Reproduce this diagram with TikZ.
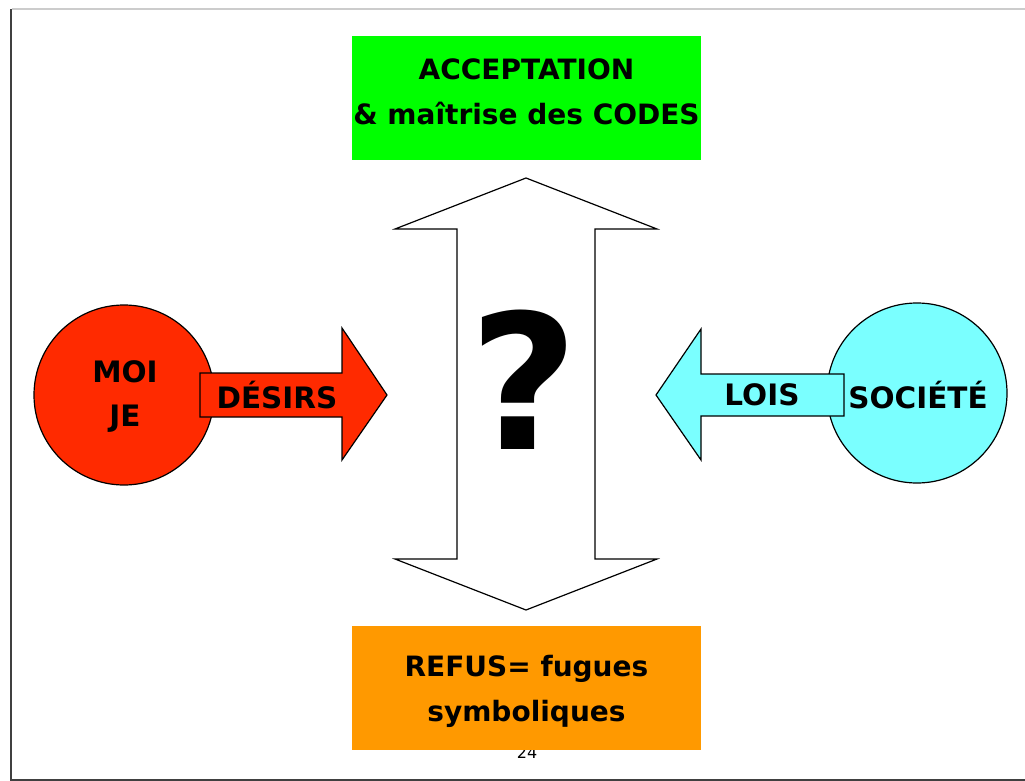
\documentclass[tikz,border=0pt]{standalone}
\usepackage{fontspec}
\setmainfont{DejaVu Sans}
\definecolor{vert}{HTML}{00FF00}
\definecolor{orange}{HTML}{FF9900}
\definecolor{rouge}{HTML}{FF2A00}
\definecolor{cyan}{HTML}{7AFFFF}
\tikzset{
  lbl/.style={font=\bfseries\fontsize{28}{45}\selectfont, align=center},
  mot/.style={font=\bfseries\fontsize{29.5}{44}\selectfont, align=center},
  boite/.style={minimum width=349, minimum height=124, inner sep=0},
  rond/.style={circle, draw, line width=1.2, minimum size=180, inner sep=0},
  fleche/.style={draw, line width=1.2, line join=miter}
}
\begin{document}
\begin{tikzpicture}[x=1pt,y=-1pt]
\useasboundingbox (0,0) rectangle (1025,781);
% cadre de la page
\draw[black!20, line width=1.5] (12,9) -- (1025,9);
\draw[black!75, line width=2] (11,9) -- (11,780) -- (1025,780);
\node[font=\fontsize{16}{16}\selectfont] (num) at (527,753) {24};
% les deux issues
\node[boite, fill=vert] (acc) at (526.5,98) {};
\node[lbl] (acctxt) at (526.5,91.5) {ACCEPTATION\\\& maîtrise des CODES};
\node[boite, fill=orange] (ref) at (526.5,688) {};
\node[lbl] (reftxt) at (526.5,691.5) {REFUS= fugues\\symboliques};
% double fleche centrale
\draw[fleche, fill=white] (526,178) -- (657,229) -- (595,229) -- (595,559) -- (657,559)
  -- (526,610) -- (395,559) -- (457,559) -- (457,229) -- (395,229) -- cycle;
\node[font=\bfseries\fontsize{188}{188}\selectfont] (q) at (524,380) {?};
% moi
\node[rond, fill=rouge] (moi) at (124,395) {};
\node[mot] (moitxt) at (125,397) {MOI\\JE};
\draw[fleche, fill=rouge] (200,373) -- (342,373) -- (342,328) -- (387,395) -- (342,460)
  -- (342,417) -- (200,417) -- cycle;
\node[mot] (desirs) at (277,395) {DÉSIRS};
% societe
\node[rond, fill=cyan] (soc) at (917,393) {};
\node[mot] (soctxt) at (918,395) {SOCIÉTÉ};
\draw[fleche, fill=cyan] (844,374) -- (701,374) -- (701,329) -- (656,395) -- (701,460)
  -- (701,416) -- (844,416) -- cycle;
\node[mot] (lois) at (762,395) {LOIS};
\end{tikzpicture}
\end{document}
